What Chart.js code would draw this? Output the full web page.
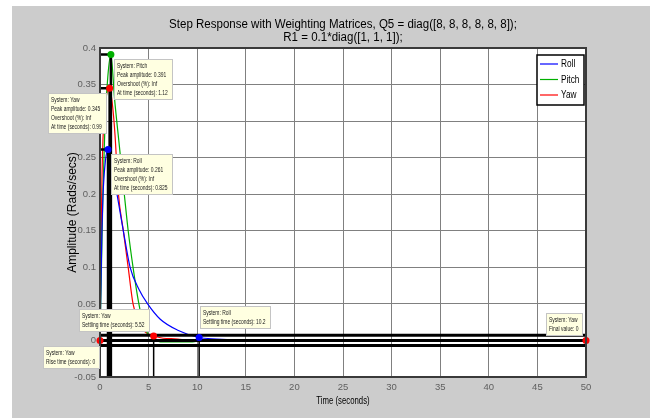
<!DOCTYPE html>
<html>
<head>
<meta charset="utf-8">
<script src="https://cdn.jsdelivr.net/npm/chart.js@4.4.1/dist/chart.umd.min.js"></script>
<style>
  html, body { margin: 0; padding: 0; background: #fff; }
</style>
</head>
<body>
<canvas id="stepChart" width="650" height="418"></canvas>
<script>
// step responses
var rollT  = [0, 0.1, 0.2, 0.35, 0.55, 0.825, 1.2, 1.75, 2.4, 3.1, 4.0, 4.9, 6.2, 8.0, 10.2, 12, 14, 50];
var rollY  = [0, 0.08, 0.15, 0.21, 0.245, 0.261, 0.247, 0.2, 0.15, 0.1, 0.07, 0.05, 0.029, 0.014, 0.004, 0.002, 0.001, 0];
var pitchT = [0, 0.15, 0.3, 0.5, 0.8, 1.12, 1.5, 2.0, 2.5, 2.9, 3.4, 4.0, 4.5, 5.0, 5.6, 6.2, 8.0, 9.5, 10.5, 50];
var pitchY = [0, 0.1, 0.2, 0.29, 0.36, 0.391, 0.33, 0.265, 0.2, 0.15, 0.1, 0.05, 0.02, 0.008, 0.003, -0.002, -0.002, -0.002, 0, 0];
var yawT   = [0, 0.1, 0.2, 0.35, 0.6, 0.99, 1.3, 1.55, 1.9, 2.4, 2.9, 3.4, 4.0, 4.6, 5.52, 6.5, 8.0, 9.0, 50];
var yawY   = [0, 0.12, 0.22, 0.29, 0.33, 0.345, 0.32, 0.28, 0.2, 0.15, 0.1, 0.05, 0.025, 0.012, 0.006, 0.003, 0.002, 0, 0];

var systems   = ['Roll', 'Pitch', 'Yaw'];
var colors    = ['#0000ff', '#00b000', '#ff0000'];
var peakAmp   = [0.261, 0.391, 0.345];
var peakTime  = [0.825, 1.12, 0.99];
var settleSys   = [0, 2];          // roll, yaw
var settleTime  = [10.2, 5.52];
var settleLevel = [0.004, 0.006];
var bandLevels  = [0.007, 0, -0.007];
var yawRise  = 0;
var yawFinal = 0;

var xTicks = [0, 5, 10, 15, 20, 25, 30, 35, 40, 45, 50];
var yTicks = [-0.05, 0, 0.05, 0.1, 0.15, 0.2, 0.25, 0.3, 0.35, 0.4];

var titleLines = ['Step Response with Weighting Matrices, Q5 = diag([8, 8, 8, 8, 8, 8]);', 'R1 = 0.1*diag([1, 1, 1]);'];
var xTitle = 'Time (seconds)';
var yTitle = 'Amplitude (Rads/secs)';

var sans = '"Liberation Sans", Arial, sans-serif';

function pts(t, y) {
  return t.map(function (v, i) { return { x: v, y: y[i] }; });
}

var datasets = [];
[[rollT, rollY], [pitchT, pitchY], [yawT, yawY]].forEach(function (s, i) {
  datasets.push({
    label: systems[i], data: pts(s[0], s[1]),
    borderColor: colors[i], borderWidth: 1.2, pointRadius: 0,
    cubicInterpolationMode: 'monotone', order: 3
  });
});
// peak guides
peakAmp.forEach(function (p, i) {
  datasets.push({
    data: [{ x: 0, y: p }, { x: peakTime[i], y: p }, { x: peakTime[i], y: yTicks[0] }],
    borderColor: '#000', borderWidth: 2.5, pointRadius: 0, tension: 0, order: 2
  });
});
// settling guides
settleTime.forEach(function (t, i) {
  datasets.push({
    data: [{ x: t, y: settleLevel[i] }, { x: t, y: yTicks[0] }],
    borderColor: '#000', borderWidth: 1.5, pointRadius: 0, order: 2
  });
});
bandLevels.forEach(function (lv) {
  datasets.push({
    data: [{ x: 0, y: lv }, { x: 50, y: lv }],
    borderColor: '#000', borderWidth: 3, pointRadius: 0, order: 2
  });
});

// marker dots
var markPts = [], markCols = [];
peakAmp.forEach(function (p, i) { markPts.push({ x: peakTime[i], y: p }); markCols.push(colors[i]); });
settleTime.forEach(function (t, i) { markPts.push({ x: t, y: settleLevel[i] }); markCols.push(colors[settleSys[i]]); });
markPts.push({ x: yawRise, y: 0 }); markCols.push(colors[2]);
markPts.push({ x: 50, y: yawFinal }); markCols.push(colors[2]);
datasets.push({
  data: markPts, showLine: false, pointRadius: 3.5, pointBackgroundColor: markCols,
  pointBorderColor: markCols, pointBorderWidth: 0, order: 0, clip: false
});

// data tips: anchor point, text, placement
var tips = [
  { x: peakTime[1], y: peakAmp[1], side: 1, vert: 1, gx: 3, gy: 4,
    lines: ['System: Pitch', 'Peak amplitude: ' + peakAmp[1], 'Overshoot (%): Inf', 'At time (seconds): ' + peakTime[1]] },
  { x: peakTime[2], y: peakAmp[2], side: -1, vert: 1, gx: 3, gy: 5,
    lines: ['System: Yaw', 'Peak amplitude: ' + peakAmp[2], 'Overshoot (%): Inf', 'At time (seconds): ' + peakTime[2]] },
  { x: peakTime[0], y: peakAmp[0], side: 1, vert: 1, gx: 3, gy: 4,
    lines: ['System: Roll', 'Peak amplitude: ' + peakAmp[0], 'Overshoot (%): Inf', 'At time (seconds): ' + peakTime[0]] },
  { x: settleTime[1], y: settleLevel[1], side: -1, vert: -1, gx: 4, gy: 4,
    lines: ['System: Yaw', 'Settling time (seconds): ' + settleTime[1]] },
  { x: settleTime[0], y: settleLevel[0], side: 1, vert: -1, gx: 1, gy: 9,
    lines: ['System: Roll', 'Settling time (seconds): ' + settleTime[0]] },
  { x: yawRise, y: 0, side: -1, vert: 1, gx: 0, gy: 6,
    lines: ['System: Yaw', 'Rise time (seconds): ' + yawRise] },
  { x: 50, y: yawFinal, side: -1, vert: -1, gx: 3, gy: 4,
    lines: ['System: Yaw', 'Final value: ' + yawFinal] }
];

// horizontally condensed text (the source figure is squeezed sideways)
function condText(c, text, x, y, k) {
  c.save();
  c.translate(x, y);
  c.scale(k, 1);
  c.fillText(text, 0, 0);
  c.restore();
}

function drawTip(c, px, py, tip) {
  var k = 0.76;
  c.font = '6.5px ' + sans;
  var w = 0;
  tip.lines.forEach(function (l) { w = Math.max(w, c.measureText(l).width * k); });
  w = Math.round(w + 8);
  var h = tip.lines.length * 9 + 5;
  var bx = tip.side > 0 ? px + tip.gx : px - tip.gx - w;
  var by = tip.vert > 0 ? py + tip.gy : py - tip.gy - h;
  bx = Math.round(bx); by = Math.round(by);
  c.fillStyle = '#ffffe1';
  c.fillRect(bx, by, w, h);
  c.strokeStyle = '#c4c4c4';
  c.lineWidth = 1;
  c.strokeRect(bx + 0.5, by + 0.5, w - 1, h - 1);
  c.fillStyle = '#222';
  c.textAlign = 'left';
  c.textBaseline = 'middle';
  tip.lines.forEach(function (l, i) { condText(c, l, bx + 3, by + 7 + i * 9, k); });
}

var decor = {
  id: 'decor',
  beforeDraw: function (chart) {
    var c = chart.ctx, a = chart.chartArea;
    c.save();
    c.fillStyle = '#fff';
    c.fillRect(0, 0, chart.width, chart.height);
    c.fillStyle = '#cccccc';
    c.fillRect(12, 6, chart.width - 12, chart.height - 6);
    c.fillStyle = '#fff';
    c.fillRect(a.left, a.top, a.right - a.left, a.bottom - a.top);
    c.restore();
  },
  afterDraw: function (chart) {
    var c = chart.ctx, a = chart.chartArea;
    var xs = chart.scales.x, ys = chart.scales.y;
    c.save();
    c.strokeStyle = '#3a3a3a';
    c.lineWidth = 2;
    c.strokeRect(a.left, a.top, a.right - a.left, a.bottom - a.top);

    var cx = (a.left + a.right) / 2;
    c.fillStyle = '#000';
    c.textAlign = 'center';
    c.textBaseline = 'middle';
    c.font = '12px ' + sans;
    condText(c, titleLines[0], cx, 25, 0.96);
    condText(c, titleLines[1], cx, 38, 0.96);
    c.font = '10.5px ' + sans;
    condText(c, xTitle, cx, 401, 0.74);
    c.save();
    c.translate(73, (a.top + a.bottom) / 2);
    c.rotate(-Math.PI / 2);
    c.font = '12px ' + sans;
    c.fillText(yTitle, 0, 0);
    c.restore();

    // legend
    var lx = a.right - 49, ly = a.top + 7;
    c.fillStyle = '#fff';
    c.fillRect(lx, ly, 47, 50);
    c.strokeStyle = '#000';
    c.lineWidth = 1.5;
    c.strokeRect(lx, ly, 47, 50);
    c.font = '11px ' + sans;
    c.textAlign = 'left';
    systems.forEach(function (s, i) {
      var yy = ly + 9 + i * 15.5;
      c.strokeStyle = colors[i];
      c.lineWidth = 1.2;
      c.beginPath();
      c.moveTo(lx + 3, yy);
      c.lineTo(lx + 21, yy);
      c.stroke();
      c.fillStyle = '#000';
      condText(c, s, lx + 24, yy, 0.75);
    });

    tips.forEach(function (t) {
      drawTip(c, xs.getPixelForValue(t.x), ys.getPixelForValue(t.y), t);
    });
    c.restore();
  }
};

new Chart(document.getElementById('stepChart'), {
  type: 'line',
  data: { datasets: datasets },
  options: {
    responsive: false,
    animation: false,
    devicePixelRatio: 1,
    layout: { padding: { left: 0, top: 48, right: 64, bottom: 0 } },
    plugins: { legend: { display: false }, tooltip: { enabled: false }, title: { display: false } },
    scales: {
      x: {
        type: 'linear', min: xTicks[0], max: xTicks[xTicks.length - 1],
        afterBuildTicks: function (s) { s.ticks = xTicks.map(function (v) { return { value: v }; }); },
        ticks: { padding: 5, color: '#606060', font: { family: sans, size: 9.5 } },
        grid: { color: '#808080', lineWidth: 1, drawTicks: false },
        border: { display: true, color: '#333', width: 2 },
        afterFit: function (s) { s.height = 41; }
      },
      y: {
        type: 'linear', min: yTicks[0], max: yTicks[yTicks.length - 1],
        afterBuildTicks: function (s) { s.ticks = yTicks.map(function (v) { return { value: v }; }); },
        ticks: {
          padding: 4, color: '#606060', font: { family: sans, size: 9.5 },
          callback: function (v) { return String(parseFloat(v.toFixed(2))); }
        },
        grid: { color: '#808080', lineWidth: 1, drawTicks: false },
        border: { display: true, color: '#333', width: 2 },
        afterFit: function (s) { s.width = 100; }
      }
    }
  },
  plugins: [decor]
});
</script>
</body>
</html>
